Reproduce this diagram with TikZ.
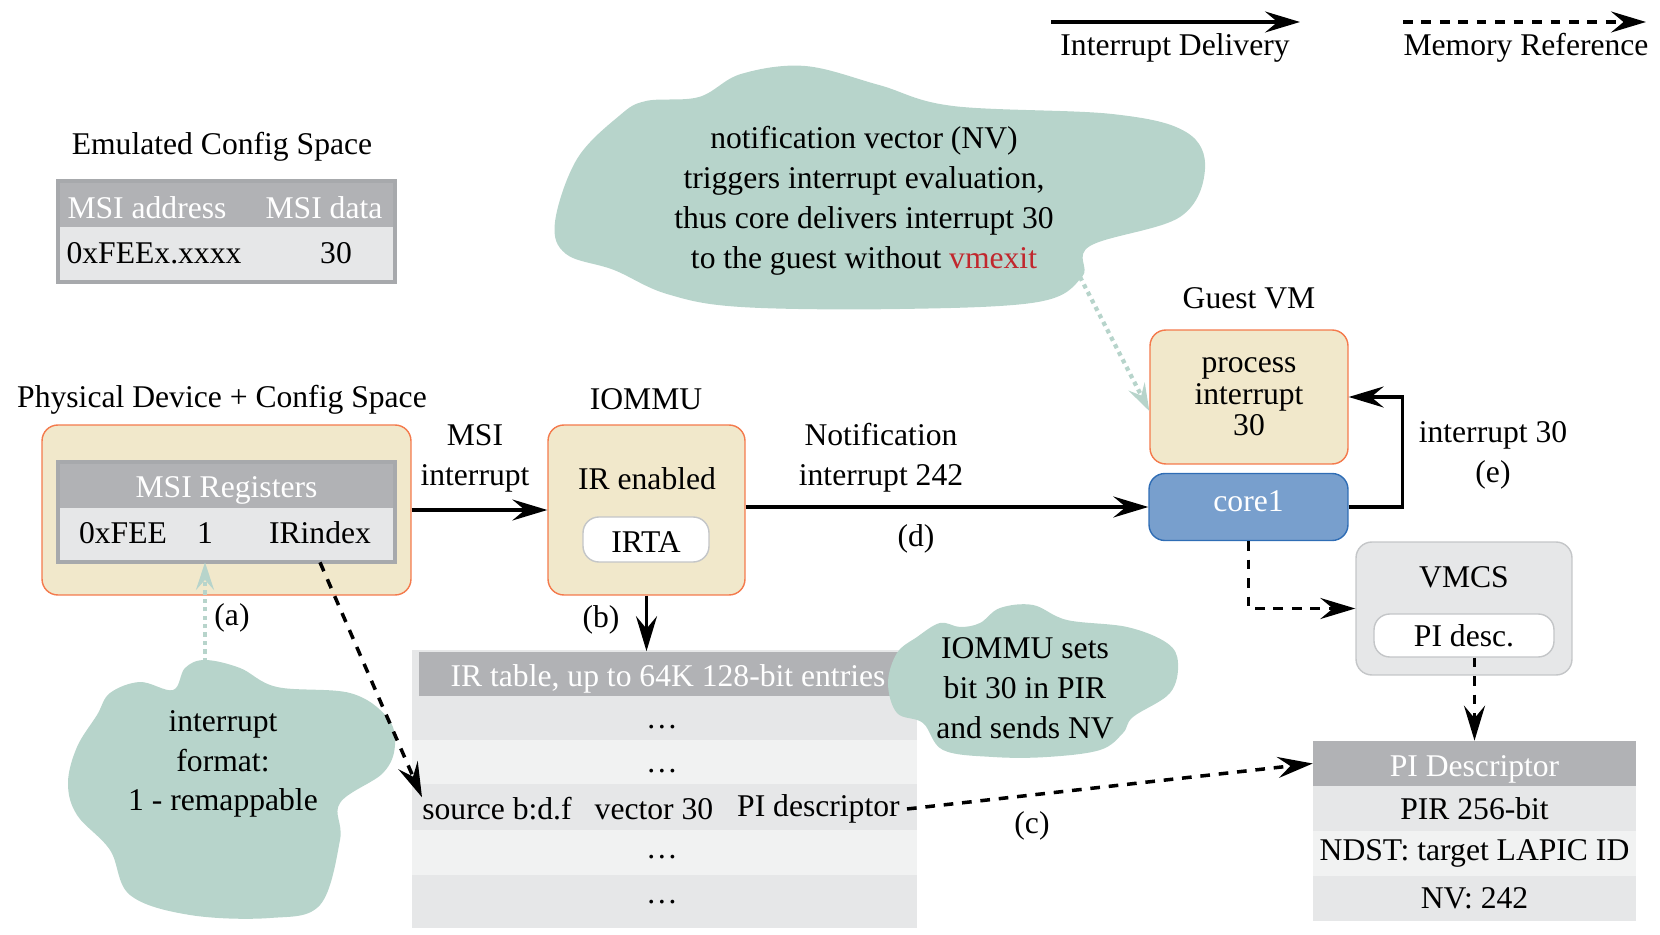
\documentclass[tikz,border=0pt]{standalone}
\usepackage{fontspec}
\setmainfont{Liberation Serif}
\usepackage{xcolor}
\usetikzlibrary{arrows.meta,positioning}

% Colours of the figure
\definecolor{boxfill}{HTML}{F1E8CB}
\definecolor{boxline}{HTML}{F47A4C}
\definecolor{corefill}{HTML}{789FCD}
\definecolor{coreline}{HTML}{2F6DB5}
\definecolor{cloudfill}{HTML}{B7D4CB}
\definecolor{hdrgray}{HTML}{B1B2B5}
\definecolor{rowgray}{HTML}{E6E7E8}
\definecolor{rowlight}{HTML}{F1F2F2}
\definecolor{tblline}{HTML}{A7A9AC}
\definecolor{softline}{HTML}{C4C6C8}
\definecolor{exitred}{HTML}{C1272D}

\begin{document}
\begin{tikzpicture}[x=0.02cm, y=-0.02cm,
        every node/.style={font=\fontsize{18}{22.8}\selectfont, inner sep=0pt},
        unit/.style={draw=boxline, fill=boxfill, line width=0.8pt, rounded corners=9pt, align=center},
        corebox/.style={draw=coreline, fill=corefill, line width=0.8pt, rounded corners=9pt, text=white},
        softbox/.style={draw=softline, fill=rowgray, line width=0.8pt, rounded corners=9pt},
        pill/.style={draw=softline, fill=white, line width=0.8pt, rounded corners=9pt},
        band/.style={fill=rowgray},
        hdr/.style={fill=hdrgray, text=white, text height=18pt, text depth=3.6pt},
        deliver/.style={line width=2pt, -{Stealth[length=0.7cm, width=0.42cm, inset=0.25cm]}},
        memref/.style={deliver, dash pattern=on 5.5pt off 5pt},
        hint/.style={draw=cloudfill, line width=2.4pt, dash pattern=on 2.4pt off 2.4pt,
                     -{Stealth[length=0.55cm, width=0.36cm, inset=0.2cm]}}]
        \useasboundingbox (0,0) rectangle (1660,935);

        % Legend in the top right corner
        \coordinate (legA) at (1051,22);
        \coordinate (legB) at (1300,22);
        \coordinate (legC) at (1403,22);
        \coordinate (legD) at (1646,22);
        \draw[deliver] (legA) -- (legB);
        \draw[memref] (legC) -- (legD);
        \node (legdeliver) at (1175,48) {Interrupt Delivery};
        \node (legmemref) at (1526,48) {Memory Reference};

        % Emulated config space table
        \node (emutitle) at (222,147) {Emulated Config Space};
        \node[hdr, minimum width=6.74cm, minimum height=0.92cm] (emuhdr) at (226.5,204) {};
        \node[band, minimum width=6.74cm, minimum height=1.1cm] (emurow) at (226.5,254.5) {};
        \draw[tblline, line width=2.2pt] (emuhdr.north west) rectangle (emurow.south east);
        \node[text=white] (emuaddr) at (147,208) {MSI address};
        \node[text=white] (emudata) at (324,208) {MSI data};
        \node (emuval) at (154,253) {0xFEEx.xxxx};
        \node (emunum) at (336,253) {30};

        % Physical device with its MSI registers
        \node (phystitle) at (222,400) {Physical Device + Config Space};
        \node[unit, minimum width=7.38cm, minimum height=3.4cm] (phys) at (226.5,510) {};
        \node[hdr, minimum width=6.74cm, minimum height=0.92cm] (msihdr) at (226.5,485) {MSI Registers};
        \node[band, minimum width=6.74cm, minimum height=1.08cm] (msirow) at (226.5,535) {};
        \draw[tblline, line width=2.2pt] (msihdr.north west) rectangle (msirow.south east);
        \node (zeroxfee) at (123,533) {0xFEE};
        \node (one) at (205,533) {1};
        \node (irindex) at (320,533) {IRindex};

        % IOMMU
        \node (iommutitle) at (646,399) {IOMMU};
        \node[unit, minimum width=3.94cm, minimum height=3.4cm] (iommu) at (646.5,510) {};
        \node (irenabled) at (647,479) {IR enabled};
        \node[pill, minimum width=2.52cm, minimum height=0.9cm, text height=15.3pt] (irta) at (646,539.5) {IRTA};

        % Guest VM and its core
        \node (guesttitle) at (1249,298) {Guest VM};
        \node[unit, minimum width=3.96cm, minimum height=2.68cm, font=\fontsize{18}{18}\selectfont] (proc) at (1249,397) {process\\interrupt\\30};
        \node[corebox, minimum width=3.98cm, minimum height=1.34cm, text depth=6.3pt] (core1) at (1248.5,507) {core1};

        % VMCS holding the PI descriptor pointer
        \node[softbox, minimum width=4.32cm, minimum height=2.66cm] (vmcs) at (1464,608.5) {};
        \node (vmcstitle) at (1464,577) {VMCS};
        \node[pill, minimum width=3.6cm, minimum height=0.86cm] (pidesc) at (1464,635.5) {PI desc.};

        % IR table with its entries
        \fill[rowgray] (412,650) rectangle (917,696);
        \node[hdr, minimum width=9.96cm, minimum height=0.9cm] (irhdr) at (668,674) {IR table, up to 64K 128-bit entries};
        \foreach \i/\top/\bot/\shade in {1/696/739.5/rowgray, 2/739.5/784/rowlight, 3/784/830/rowgray,
                                         4/830/875/rowlight, 5/875/928/rowgray}{
            \fill[\shade] (412,\top) rectangle (917,\bot);
        }
        \foreach \i/\dy in {1/727, 2/771, 4/857, 5/902}{
            \node (dots\i) at (662,\dy) {\dots};
        }
        \node[anchor=west] (src) at (422,809) {source b:d.f};
        \node (vec) at (654,809) {vector 30};
        \node[anchor=east] (pidref) at (900,809) {PI descriptor};

        % PI descriptor table
        \node[hdr, minimum width=6.46cm, minimum height=0.9cm] (pihdr) at (1474.5,763.5) {PI Descriptor};
        \foreach \i/\shade/\txt in {1/rowgray/PIR 256-bit, 2/rowlight/NDST: target LAPIC ID, 3/rowgray/NV: 242}{
            \node[band, fill=\shade, minimum width=6.46cm, minimum height=0.9cm] (pirow\i) at (1474.5,{786+45*(\i-0.5)}) {\txt};
        }

        % Clouds with the notes
        \fill[cloudfill] plot[smooth cycle, tension=0.6] coordinates {
            (555,222) (577,159) (619,116) (646,101) (699,97) (741,74) (805,66) (879,85)
            (953,106) (1112,114) (1186,132) (1205,169) (1180,217) (1090,246) (1082,277)
            (1038,302) (900,309) (741,307) (667,294) (614,270) (566,254)};
        \node[align=center] (nvnote) at (864,201) {notification vector (NV)\\triggers interrupt evaluation,\\thus core delivers interrupt 30\\to the guest without \textcolor{exitred}{vmexit}};
        \coordinate (nvtail) at (1080,277);

        \fill[cloudfill] plot[smooth cycle, tension=0.6] coordinates {
            (205,660) (240,668) (277,687) (350,693) (387,717) (395,745) (383,773) (340,803)
            (340,840) (320,905) (270,918) (190,915) (130,895) (110,850) (77,815) (68,783)
            (77,747) (97,715) (110,693) (140,682) (173,690) (185,668)};
        \node[align=center, font=\fontsize{18}{22.5}\selectfont] (fmtnote) at (223,764) {interrupt\\format:\\1 - remappable};
        \coordinate (fmttail) at (205,662);

        \fill[cloudfill] plot[smooth cycle, tension=0.6] coordinates {
            (980,623) (1000,608) (1033,605) (1067,620) (1127,627) (1167,643) (1178,663)
            (1170,693) (1133,717) (1123,733) (1100,750) (1047,757) (993,757) (943,750)
            (923,723) (897,713) (888,683) (897,653) (917,637) (940,623) (960,627)};
        \node[align=center] (setnote) at (1025,688) {IOMMU sets\\bit 30 in PIR\\and sends NV};

        % Interrupt delivery path
        \draw[deliver] (phys.east) -- (iommu.west);
        \draw[deliver] (iommu.east |- core1.west) -- (core1.west);
        \draw[deliver] (core1.east) -- ++(54,0) |- (proc.east);
        \draw[deliver] (iommu.south) -- (irhdr.north -| iommu.south);

        % Memory references
        \draw[memref] (irindex |- msirow.south) -- (src.north west);
        \draw[memref] ([xshift=4pt]pidref.east) -- (pihdr.west);
        \draw[memref] (core1.south) |- (vmcs.west);
        \draw[memref] (pidesc.south -| pihdr.north) -- (pihdr.north);

        % Hints from the notes
        \draw[hint] (fmttail) -- (one |- msirow.south);
        \draw[hint] (nvtail) -- ([yshift=-8pt]proc.west);

        % Labels of the connectors
        \node[align=center] (msilbl) at (475,458) {MSI\\interrupt};
        \node[align=center] (notiflbl) at (881,458) {Notification\\interrupt 242};
        \node (dlbl) at (916,539) {(d)};
        \node[align=center] (elbl) at (1493,455) {interrupt 30\\(e)};
        \node (albl) at (232,618) {(a)};
        \node (blbl) at (601,620) {(b)};
        \node (clbl) at (1032,826) {(c)};
    \end{tikzpicture}
\end{document}
